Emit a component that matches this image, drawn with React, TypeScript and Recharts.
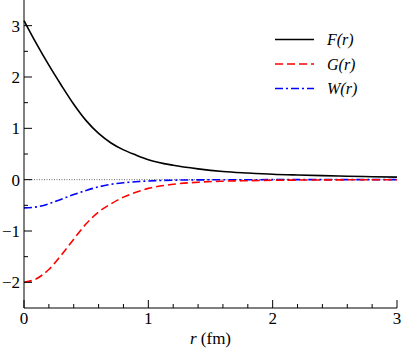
import React from "react";
import { LineChart, Line, XAxis, YAxis, ReferenceLine } from "recharts";

const rValues = [0, 0.1, 0.2, 0.3, 0.4, 0.5, 0.6, 0.7, 0.8, 0.9, 1.0, 1.2, 1.4, 1.6, 1.8, 2.0, 2.2, 2.4, 2.6, 2.8, 3.0];
const fValues = [3.1, 2.65, 2.23, 1.84, 1.47, 1.15, 0.9, 0.715, 0.58, 0.48, 0.39, 0.28, 0.21, 0.16, 0.13, 0.105, 0.09, 0.078, 0.068, 0.058, 0.05];
const gValues = [-2.0, -1.93, -1.75, -1.47, -1.16, -0.86, -0.63, -0.47, -0.34, -0.245, -0.17, -0.09, -0.05, -0.03, -0.02, -0.012, -0.008, -0.005, -0.003, -0.002, -0.001];
const wValues = [-0.55, -0.53, -0.47, -0.38, -0.29, -0.21, -0.14, -0.09, -0.06, -0.04, -0.025, -0.01, -0.004, -0.002, -0.001, 0, 0, 0, 0, 0, 0];

const xTicks = [0, 0.2, 0.4, 0.6, 0.8, 1, 1.2, 1.4, 1.6, 1.8, 2, 2.2, 2.4, 2.6, 2.8, 3];
const yTicks = [-2, -1.5, -1, -0.5, 0, 0.5, 1, 1.5, 2, 2.5, 3];

const seriesNames = ["F(r)", "G(r)", "W(r)"];

const data = rValues.map((r, i) => ({ r, F: fValues[i], G: gValues[i], W: wValues[i] }));

const FONT = "Liberation Serif, Times New Roman, serif";

const isMajor = (v: number) => Math.abs(v - Math.round(v)) < 1e-6;
const fmt = (v: number) => (v < 0 ? "\u2212" + Math.abs(Math.round(v)) : String(Math.round(v)));

const BottomTick = (props: any) => {
  const { x, y, payload } = props;
  const major = isMajor(payload.value);
  return (
    <g>
      <line x1={x} x2={x} y1={y} y2={y - (major ? 8 : 4)} stroke="#000" strokeWidth={1} />
      {major && (
        <text x={x} y={y + 16} textAnchor="middle" style={{ fontFamily: FONT }} fontSize={17} fill="#000">
          {fmt(payload.value)}
        </text>
      )}
    </g>
  );
};

const TopTick = (props: any) => {
  const { x, y, payload } = props;
  const major = isMajor(payload.value);
  return <line x1={x} x2={x} y1={y} y2={y + (major ? 8 : 4)} stroke="#000" strokeWidth={1} />;
};

const LeftTick = (props: any) => {
  const { x, y, payload } = props;
  const major = isMajor(payload.value);
  return (
    <g>
      <line x1={x} x2={x + (major ? 8 : 4)} y1={y} y2={y} stroke="#000" strokeWidth={1} />
      {major && (
        <text x={x - 4} y={y + 6} textAnchor="end" style={{ fontFamily: FONT }} fontSize={17} fill="#000">
          {fmt(payload.value)}
        </text>
      )}
    </g>
  );
};

const RightTick = (props: any) => {
  const { x, y, payload } = props;
  const major = isMajor(payload.value);
  return <line x1={x} x2={x - (major ? 8 : 4)} y1={y} y2={y} stroke="#000" strokeWidth={1} />;
};

const XLabel = (props: any) => {
  const vb = props.viewBox || {};
  const cx = vb.x + vb.width / 2;
  return (
    <text x={cx} y={vb.y + 36} textAnchor="middle" style={{ fontFamily: FONT }} fontSize={17} fill="#000">
      <tspan fontStyle="italic">r</tspan>
      <tspan> (fm)</tspan>
    </text>
  );
};

const legendStyles = [
  { color: "#000000", dash: undefined as string | undefined },
  { color: "#ff0000", dash: "8 4" },
  { color: "#0000ff", dash: "8 3 2 3" },
];

const LegendOverlay = () => (
  <svg width={130} height={75} style={{ position: "absolute", left: 270, top: 28, display: "block" }}>
    {seriesNames.map((name, i) => {
      const y = 11.5 + i * 24.5;
      return (
        <g key={name}>
          <line x1={5} x2={44} y1={y} y2={y} stroke={legendStyles[i].color} strokeWidth={1.6} strokeDasharray={legendStyles[i].dash} />
          <text x={57} y={y + 5.5} style={{ fontFamily: FONT }} fontStyle="italic" fontSize={16} fill="#000">
            {name}
          </text>
        </g>
      );
    })}
  </svg>
);

export default function App() {
  return (
    <div style={{ position: "absolute", left: 0, top: 0, width: 402, height: 350, background: "#fff" }}>
      <LineChart width={402} height={350} data={data} margin={{ top: 0, right: 5, bottom: 0, left: 0 }}>
        <XAxis
          xAxisId="b"
          dataKey="r"
          type="number"
          domain={[0, 3]}
          ticks={xTicks}
          interval={0}
          tickSize={0}
          tickMargin={0}
          height={42}
          axisLine={{ stroke: "#000", strokeWidth: 1 }}
          tickLine={false}
          tick={<BottomTick />}
          label={<XLabel />}
        />
        <XAxis
          xAxisId="t"
          orientation="top"
          dataKey="r"
          type="number"
          domain={[0, 3]}
          ticks={xTicks}
          interval={0}
          tickSize={0}
          tickMargin={0}
          height={0}
          axisLine={{ stroke: "#000", strokeWidth: 1 }}
          tickLine={false}
          tick={<TopTick />}
        />
        <YAxis
          yAxisId="l"
          type="number"
          domain={[-2.5, 3.5]}
          ticks={yTicks}
          interval={0}
          tickSize={0}
          tickMargin={0}
          width={24}
          axisLine={{ stroke: "#000", strokeWidth: 1 }}
          tickLine={false}
          tick={<LeftTick />}
        />
        <YAxis
          yAxisId="r"
          orientation="right"
          type="number"
          domain={[-2.5, 3.5]}
          ticks={yTicks}
          interval={0}
          tickSize={0}
          tickMargin={0}
          width={0}
          axisLine={{ stroke: "#000", strokeWidth: 1 }}
          tickLine={false}
          tick={<RightTick />}
        />
        <ReferenceLine xAxisId="b" yAxisId="l" y={0} stroke="#000" strokeWidth={0.6} strokeDasharray="1 1.5" />
        <Line xAxisId="b" yAxisId="l" type="monotone" dataKey="W" stroke="#0000ff" strokeWidth={1.6} strokeDasharray="8 3 2 3" dot={false} isAnimationActive={false} />
        <Line xAxisId="b" yAxisId="l" type="monotone" dataKey="G" stroke="#ff0000" strokeWidth={1.6} strokeDasharray="8 4" dot={false} isAnimationActive={false} />
        <Line xAxisId="b" yAxisId="l" type="monotone" dataKey="F" stroke="#000000" strokeWidth={1.6} dot={false} isAnimationActive={false} />
      </LineChart>
      <LegendOverlay />
    </div>
  );
}
